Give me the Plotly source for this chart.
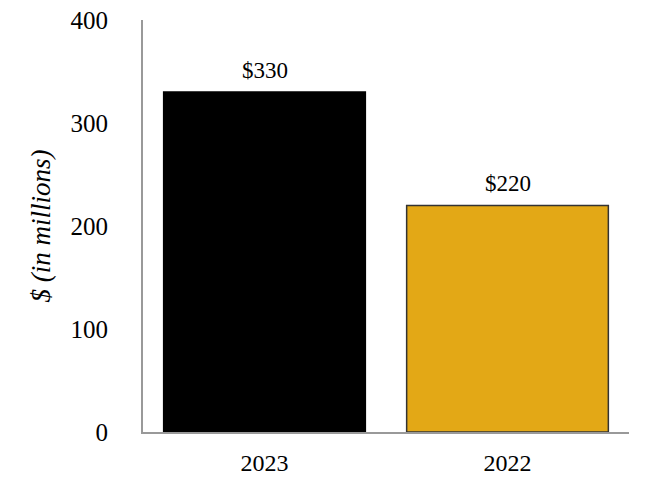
import plotly.graph_objects as go

categories = ["2023", "2022"]
values = [330, 220]
labels = ["$330", "$220"]
colors = ["#000000", "#E3A816"]
line_colors = ["#000000", "#333333"]
y_ticks = [0, 100, 200, 300, 400]

font = "Liberation Serif, Times New Roman, serif"

fig = go.Figure(go.Bar(
    x=categories, y=values,
    marker=dict(color=colors, line=dict(color=line_colors, width=1.5)),
    width=0.83,
))
for i, (v, t) in enumerate(zip(values, labels)):
    fig.add_annotation(x=i, y=v, xref="x", yref="y", text=t, showarrow=False,
                       yanchor="bottom", yshift=7,
                       font=dict(family=font, size=23, color="#000"))
fig.update_layout(
    width=650, height=500, margin=dict(l=143, r=21, t=20, b=68, autoexpand=False),
    plot_bgcolor="white", paper_bgcolor="white", showlegend=False,
    font=dict(family=font, color="#000"),
)
fig.update_yaxes(range=[0, 400], tickvals=y_ticks, showgrid=False, zeroline=False,
                 showline=True, linecolor="#999999", linewidth=2, automargin=False,
                 tickfont=dict(size=25), ticklabelstandoff=28,
                 title=dict(text="<i>$ (in millions)</i>", font=dict(size=27), standoff=12))
fig.update_xaxes(type="category", showgrid=False, showline=True, linecolor="#999999",
                 linewidth=2, tickfont=dict(size=24), ticklabelstandoff=8,
                 range=[-0.5, 1.5], automargin=False)
fig.write_html("out.html", config={"displayModeBar": False},
               post_script="document.body.style.margin='0';")
